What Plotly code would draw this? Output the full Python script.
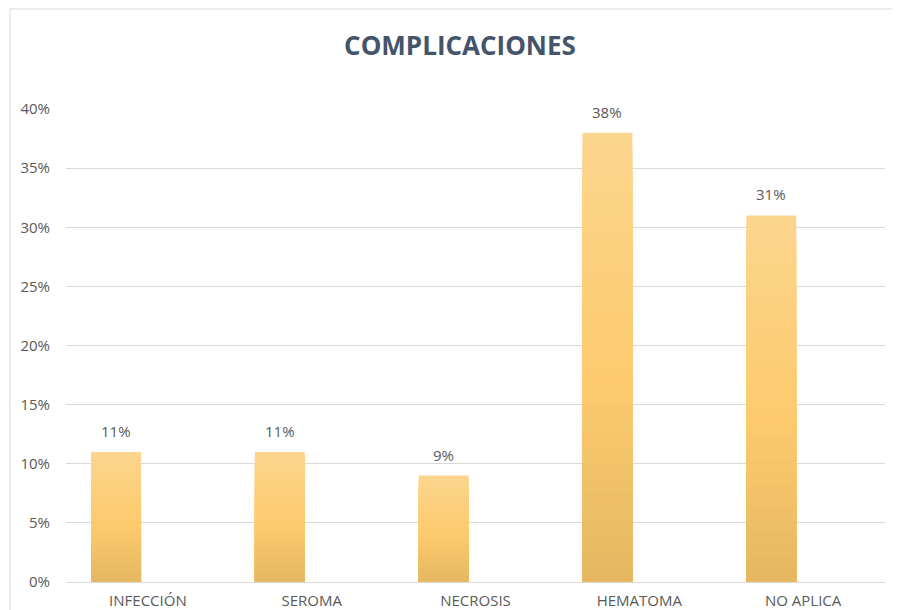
import plotly.graph_objects as go

categories = ["INFECCIÓN", "SEROMA", "NECROSIS", "HEMATOMA", "NO APLICA"]
values = [0.11, 0.11, 0.09, 0.38, 0.31]
value_labels = ["11%", "11%", "9%", "38%", "31%"]
y_ticks = [0, 0.05, 0.10, 0.15, 0.20, 0.25, 0.30, 0.35, 0.40]

# gradient stops: (fraction from bottom, rgb)
stops = [(0.0, (228, 183, 96)), (0.45, (253, 203, 110)), (1.0, (252, 213, 142))]

def grad(t):
    for (t0, c0), (t1, c1) in zip(stops[:-1], stops[1:]):
        if t0 <= t <= t1:
            u = (t - t0) / (t1 - t0)
            return "rgb(%d,%d,%d)" % tuple(round(a + (b - a) * u) for a, b in zip(c0, c1))
    return "rgb(%d,%d,%d)" % stops[-1][1]

# the page body has an 8px margin, so the figure is drawn 8px smaller
W, H = 892, 602
BAR_W = 0.305
BAR_OFF = -0.347
N = 30
fig = go.Figure()
for k in range(N, 0, -1):
    frac = k / N
    fig.add_trace(go.Bar(
        x=categories,
        y=[v * frac for v in values],
        marker=dict(color=grad((k - 0.5) / N), line=dict(width=0)),
        width=BAR_W,
        offset=BAR_OFF,
        hoverinfo="skip" if k != N else None,
        showlegend=False,
    ))

annotations = [
    dict(x=i + BAR_OFF + BAR_W / 2, y=v, xref="x", yref="y", text=lab,
         showarrow=False, yanchor="bottom", yshift=9,
         font=dict(family="Open Sans", size=15, color="#595959"))
    for i, (v, lab) in enumerate(zip(values, value_labels))
]

fig.update_layout(
    width=W, height=H,
    barmode="overlay",
    paper_bgcolor="white", plot_bgcolor="white",
    margin=dict(l=58, r=15, t=101, b=28),
    title=dict(text="<b>COMPLICACIONES</b>", x=452 / W, xanchor="center",
               y=1 - 38 / H, yanchor="middle",
               font=dict(family="Open Sans", size=26, color="#44546A")),
    font=dict(family="Open Sans", color="#595959"),
    xaxis=dict(type="category", showgrid=False, showline=False, ticks="",
               automargin=False,
               tickfont=dict(size=15, color="#595959"), ticklabelstandoff=8),
    yaxis=dict(range=[0, 0.4], tickvals=y_ticks, tickformat=".0%",
               automargin=False,
               showgrid=True, gridcolor="#D9D9D9", gridwidth=1,
               zeroline=True, zerolinecolor="#D9D9D9", zerolinewidth=1,
               showline=False, ticks="", ticklabelstandoff=15,
               tickfont=dict(size=15, color="#595959")),
    annotations=annotations,
    shapes=[dict(type="rect", xref="paper", yref="paper",
                 x0=(2 - 58) / 819, x1=(888 - 58) / 819,
                 y0=-0.2, y1=(574 - 1) / 473,
                 line=dict(color="#D9D9D9", width=1), fillcolor="rgba(0,0,0,0)",
                 layer="below")],
)

fig.write_html("out.html")
